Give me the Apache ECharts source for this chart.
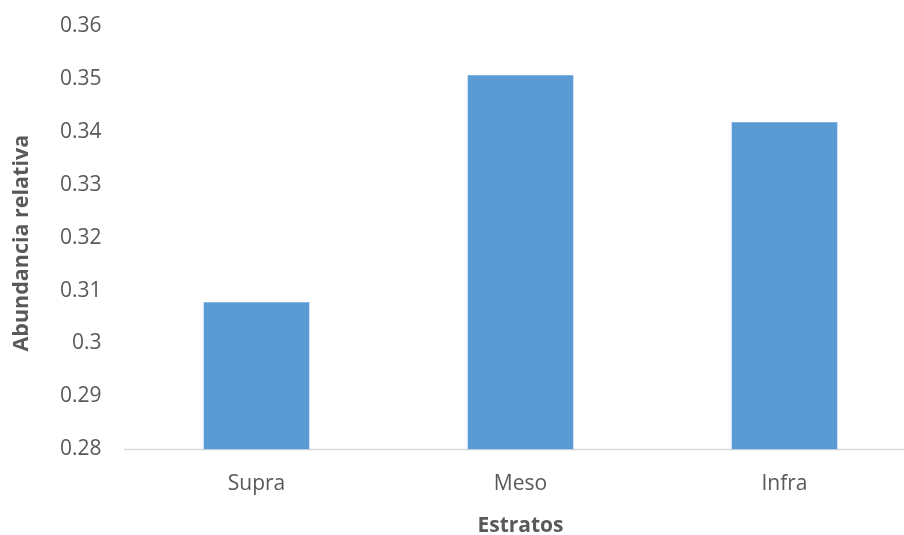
<!DOCTYPE html>
<html>
<head>
<meta charset="utf-8">
<script src="https://cdn.jsdelivr.net/npm/echarts@6/dist/echarts.min.js"></script>
<style>
  html, body { margin: 0; padding: 0; background: #fff; }
  #chart { width: 904px; height: 535px; }
</style>
</head>
<body>
<div id="chart"></div>
<script>
// Relative abundance per stratum
const categories = ['Supra', 'Meso', 'Infra'];
const abundance = [0.3078, 0.3507, 0.3418];
const yTicks = { min: 0.28, max: 0.36, step: 0.01 };

const FONT = '"Open Sans"';
const TEXT = '#595959';
const chart = echarts.init(document.getElementById('chart'));
chart.setOption({
  animation: false,
  // plot area runs a little past the right edge of the canvas
  grid: { left: 124.5, width: 792, top: 26, height: 423.3, outerBoundsMode: 'none', containLabel: false },
  xAxis: {
    type: 'category',
    data: categories,
    name: 'Estratos',
    nameLocation: 'middle',
    nameGap: 66,
    nameTextStyle: { fontFamily: FONT, fontSize: 21, fontWeight: 'bold', color: TEXT },
    axisLine: { lineStyle: { color: '#d9d9d9', width: 1.3 } },
    axisTick: { show: false },
    axisLabel: { fontFamily: FONT, fontSize: 21, color: TEXT, margin: 24 }
  },
  yAxis: {
    type: 'value',
    min: yTicks.min,
    max: yTicks.max,
    interval: yTicks.step,
    name: 'Abundancia relativa',
    nameLocation: 'middle',
    nameGap: 92,
    nameTextStyle: {
      fontFamily: FONT, fontSize: 21.5, fontWeight: 'bold', color: TEXT,
      padding: [0, 11, 0, 0]
    },
    axisLine: { show: false },
    axisTick: { show: false },
    splitLine: { show: false },
    axisLabel: {
      fontFamily: FONT, fontSize: 21, color: TEXT, margin: 23,
      formatter: v => String(Number(v.toFixed(2)))
    }
  },
  series: [{
    type: 'bar',
    data: abundance,
    barWidth: '40%',
    itemStyle: { color: '#5b9bd5' }
  }]
});
</script>
</body>
</html>
